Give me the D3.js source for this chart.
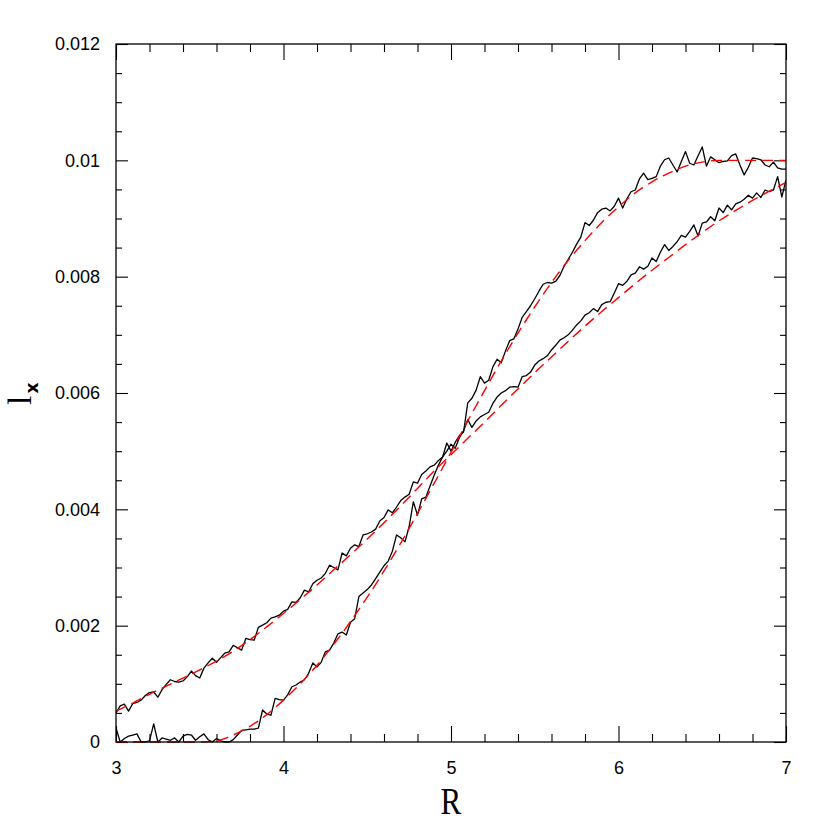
<!DOCTYPE html>
<html>
<head>
<meta charset="utf-8">
<script src="https://cdn.jsdelivr.net/npm/d3@7"></script>
<style>
  html, body { margin: 0; padding: 0; background: #fff; }
  svg { display: block; }
</style>
</head>
<body>
<svg id="chart" width="830" height="830"></svg>
<script>
// ---------------- DATA ----------------
// x axis
const xDomain = [3, 7];
const xMajorTicks = [3, 4, 5, 6, 7];
const xMinorTicks = [3.2, 3.4, 3.6, 3.8, 4.2, 4.4, 4.6, 4.8, 5.2, 5.4, 5.6, 5.8, 6.2, 6.4, 6.6, 6.8];
const xTickLabels = ["3", "4", "5", "6", "7"];
// y axis
const yDomain = [0, 0.012];
const yMajorTicks = [0, 0.002, 0.004, 0.006, 0.008, 0.01, 0.012];
const yTickLabels = ["0", "0.002", "0.004", "0.006", "0.008", "0.01", "0.012"];
const yMinorTicks = [0.0005, 0.001, 0.0015, 0.0025, 0.003, 0.0035, 0.0045, 0.005, 0.0055,
                     0.0065, 0.007, 0.0075, 0.0085, 0.009, 0.0095, 0.0105, 0.011, 0.0115];

// sampled R positions of the noisy (measured) curves: 3.000 ... 7.000 every 0.025
const sampleR = d3.range(0, 161).map(i => +(3 + i * 0.025).toFixed(3));

// measured l_x, curve A (shallow), in units of 1e-5
const measuredA = [
  50,62,65,53,66,68,72,80,85,86,
  77,90,99,107,104,103,105,112,122,114,
  110,127,136,144,137,145,153,155,166,162,
  158,178,176,175,197,201,205,213,215,218,
  225,228,241,240,248,261,258,272,278,282,
  290,304,300,296,325,320,333,339,336,356,
  358,361,366,380,386,399,394,404,415,421,
  426,447,445,460,466,473,476,484,490,500,
  512,505,523,535,554,541,552,559,563,567,
  582,593,600,604,610,611,610,628,630,636,
  648,655,659,664,674,682,691,695,700,708,
  717,724,734,738,745,740,752,756,757,772,
  788,785,792,803,806,817,813,818,832,826,
  842,855,845,852,860,871,868,878,889,870,
  892,894,903,896,918,910,923,915,925,928,
  933,940,935,944,936,949,946,949,972,937,
  966
];
// measured l_x, curve B (steep), in units of 1e-5
const measuredB = [
  24,0,6,10,12,14,0,0,2,31,
  0,7,5,3,7,0,10,13,12,3,
  9,14,4,0,6,2,0,0,4,12,
  20,21,22,22,24,55,48,46,75,73,
  72,81,95,98,103,107,118,136,129,137,
  155,158,170,186,189,184,206,212,250,256,
  262,270,281,292,303,311,328,356,351,344,
  370,413,390,418,421,440,459,476,490,514,
  500,515,527,533,583,591,605,628,617,622,
  645,658,652,672,690,693,710,730,740,750,
  762,775,787,790,789,792,802,818,830,842,
  856,868,893,888,897,910,916,918,913,921,
  935,918,934,946,949,968,978,967,969,972,
  990,1001,1004,992,980,998,1015,995,992,1008,
  1023,990,1006,1001,996,998,999,1008,1011,992,
  975,988,1004,1003,1001,992,989,997,987,985,
  985
];

// fitted (red dashed) curves
const fitR = [3.0,3.1,3.2,3.3,3.4,3.5,3.6,3.7,3.8,3.9,
              4.0,4.1,4.2,4.3,4.4,4.5,4.6,4.7,4.8,4.9,
              5.0,5.1,5.2,5.3,5.4,5.5,5.6,5.7,5.8,5.9,
              6.0,6.1,6.2,6.3,6.4,6.5,6.6,6.7,6.8,6.9,7.0];
const fitA = [53,67,82,96,110,124,139,156,176,198,
              221,245,270,296,322,349,377,406,436,466,
              494,522,550,579,607,635,662,689,715,740,
              764,788,811,833,855,876,896,914,931,947,962];
const fitB = [0,0,0,0,0,0,2,12,27,47,
              72,100,132,168,207,249,294,342,393,445,
              498,552,604,655,703,748,790,828,862,893,
              920,944,963,978,990,997,1000,1000,1000,1000,1000];
const UNIT = 1e-5;

// ---------------- CHART ----------------
const svg = d3.select("#chart");
const plot = { left: 116, right: 786, top: 44, bottom: 742 };

const x = d3.scaleLinear().domain(xDomain).range([plot.left, plot.right]);
const y = d3.scaleLinear().domain(yDomain).range([plot.bottom, plot.top]);

const tickFont = "'Liberation Sans', Arial, Helvetica, sans-serif";

svg.append("defs").append("clipPath").attr("id", "clip")
  .append("rect")
  .attr("x", plot.left).attr("y", plot.top - 2)
  .attr("width", plot.right - plot.left).attr("height", plot.bottom - plot.top + 4);

// axes (ticks inward on all four sides)
function styleAxis(g, showText) {
  g.select(".domain").remove();
  g.selectAll(".tick line").attr("stroke", "#000").attr("stroke-width", 1.1);
  if (!showText) g.selectAll(".tick text").remove();
  else g.selectAll(".tick text").attr("fill", "#000")
        .style("font-family", tickFont).style("font-size", "18px");
}

// bottom
svg.append("g").attr("transform", `translate(0,${plot.bottom})`)
  .call(d3.axisBottom(x).tickValues(xMajorTicks).tickSize(-16).tickPadding(19)
        .tickFormat((d, i) => xTickLabels[i]))
  .call(g => styleAxis(g, true));
svg.append("g").attr("transform", `translate(0,${plot.bottom})`)
  .call(d3.axisBottom(x).tickValues(xMinorTicks).tickSize(-8))
  .call(g => styleAxis(g, false));
// top
svg.append("g").attr("transform", `translate(0,${plot.top})`)
  .call(d3.axisTop(x).tickValues(xMajorTicks).tickSize(-16))
  .call(g => styleAxis(g, false));
svg.append("g").attr("transform", `translate(0,${plot.top})`)
  .call(d3.axisTop(x).tickValues(xMinorTicks).tickSize(-8))
  .call(g => styleAxis(g, false));
// left
svg.append("g").attr("transform", `translate(${plot.left},0)`)
  .call(d3.axisLeft(y).tickValues(yMajorTicks).tickSize(-12).tickPadding(16)
        .tickFormat((d, i) => yTickLabels[i]))
  .call(g => styleAxis(g, true));
svg.append("g").attr("transform", `translate(${plot.left},0)`)
  .call(d3.axisLeft(y).tickValues(yMinorTicks).tickSize(-6))
  .call(g => styleAxis(g, false));
// right
svg.append("g").attr("transform", `translate(${plot.right},0)`)
  .call(d3.axisRight(y).tickValues(yMajorTicks).tickSize(-12))
  .call(g => styleAxis(g, false));
svg.append("g").attr("transform", `translate(${plot.right},0)`)
  .call(d3.axisRight(y).tickValues(yMinorTicks).tickSize(-6))
  .call(g => styleAxis(g, false));

// data lines
const line = d3.line().x(d => x(d[0])).y(d => y(d[1]));
const smooth = d3.line().x(d => x(d[0])).y(d => y(d[1])).curve(d3.curveMonotoneX);

const lines = svg.append("g").attr("clip-path", "url(#clip)");
[measuredA, measuredB].forEach(series => {
  lines.append("path")
    .datum(sampleR.map((r, i) => [r, series[i] * UNIT]))
    .attr("fill", "none").attr("stroke", "#000").attr("stroke-width", 1.3)
    .attr("stroke-linejoin", "round")
    .attr("d", line);
});
[fitA, fitB].forEach(series => {
  lines.append("path")
    .datum(fitR.map((r, i) => [r, series[i] * UNIT]))
    .attr("fill", "none").attr("stroke", "#ff0000").attr("stroke-width", 1.4)
    .attr("stroke-dasharray", "11,6")
    .attr("d", smooth);
});

// frame
svg.append("rect")
  .attr("x", plot.left).attr("y", plot.top)
  .attr("width", plot.right - plot.left).attr("height", plot.bottom - plot.top)
  .attr("fill", "none").attr("stroke", "#000").attr("stroke-width", 1.3);

// axis titles
svg.append("text")
  .attr("x", (plot.left + plot.right) / 2).attr("y", 814)
  .attr("text-anchor", "middle")
  .style("font-family", "'Liberation Serif', 'Times New Roman', serif")
  .style("font-size", "38px")
  .attr("transform", `translate(${(plot.left + plot.right) / 2},0) scale(0.82,1) translate(${-(plot.left + plot.right) / 2},0)`)
  .text("R");

const ylab = svg.append("text")
  .attr("transform", "translate(31,405) rotate(-90)")
  .attr("text-anchor", "start");
ylab.append("tspan")
  .style("font-family", "'Liberation Serif', 'Times New Roman', serif")
  .style("font-size", "34px")
  .text("l");
ylab.append("tspan")
  .attr("dy", 7)
  .attr("dx", 2)
  .style("font-family", "'DejaVu Sans', sans-serif")
  .style("font-weight", "bold")
  .style("font-size", "17px")
  .text("x");
</script>
</body>
</html>
